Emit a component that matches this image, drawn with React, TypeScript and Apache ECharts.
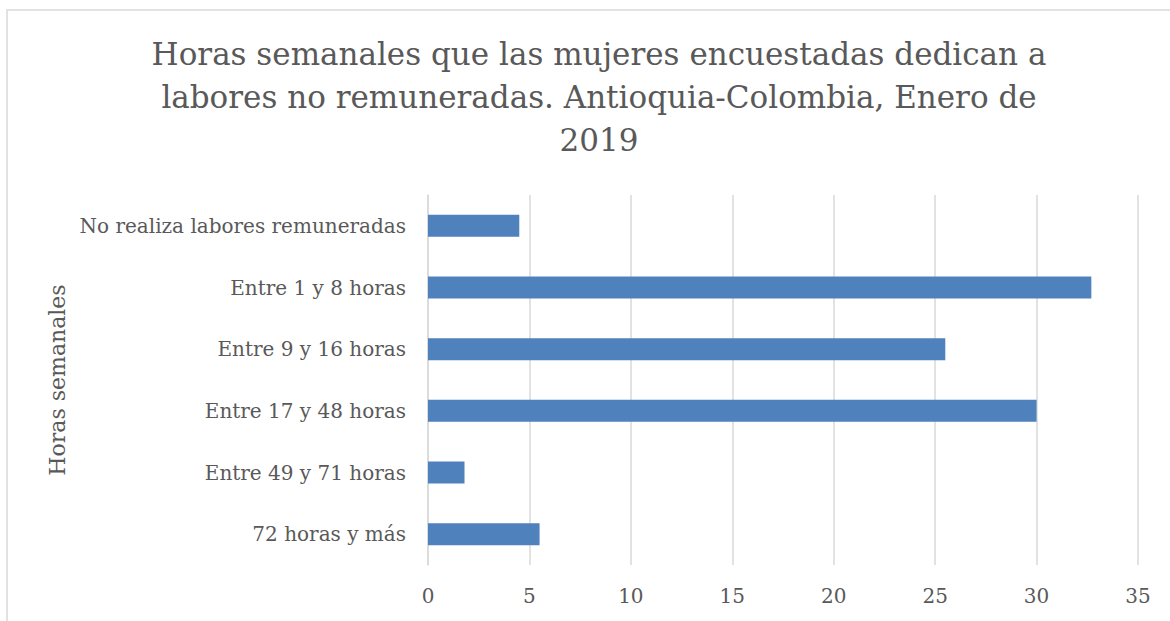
import React, { useEffect, useRef } from "react";
import * as echarts from "echarts";

const titleLines = [
  "Horas semanales que las mujeres encuestadas dedican a",
  "labores no remuneradas. Antioquia-Colombia, Enero de",
  "2019",
];
const categories = [
  "No realiza labores remuneradas",
  "Entre 1 y 8 horas",
  "Entre 9 y 16 horas",
  "Entre 17 y 48 horas",
  "Entre 49 y 71 horas",
  "72 horas y más",
];
const values = [4.5, 32.7, 25.5, 30, 1.8, 5.5];
const yAxisName = "Horas semanales";

const FONT = "'DejaVu Serif', serif";
const TEXT = "#595959";

export default function App() {
  const ref = useRef<HTMLDivElement>(null);
  useEffect(() => {
    document.body.style.margin = "0";
    const chart = echarts.init(ref.current!, null, { renderer: "svg" });
    chart.setOption({
      animation: false,
      backgroundColor: "#ffffff",
      title: {
        text: titleLines.join("\n"),
        left: 594,
        textAlign: "center",
        top: 27,
        textStyle: {
          fontFamily: FONT,
          fontSize: 31,
          fontWeight: "normal",
          color: TEXT,
          lineHeight: 43,
        },
      },
      graphic: [
        {
          type: "rect",
          shape: { x: 7, y: 10, width: 1200, height: 700 },
          style: { fill: "none", stroke: "#d9d9d9", lineWidth: 1.5 },
          silent: true,
        },
      ],
      grid: { left: 428, right: 32, top: 195, bottom: 56 },
      xAxis: {
        type: "value",
        min: 0,
        max: 35,
        interval: 5,
        axisLine: { show: false },
        axisTick: { show: false },
        splitLine: { show: true, lineStyle: { color: "#d9d9d9", width: 1.5 } },
        axisLabel: {
          fontFamily: FONT,
          fontSize: 20,
          color: TEXT,
          margin: 21,
        },
      },
      yAxis: {
        type: "category",
        data: categories,
        inverse: true,
        name: yAxisName,
        nameLocation: "middle",
        nameGap: 357,
        nameRotate: 90,
        nameTextStyle: { fontFamily: FONT, fontSize: 22, color: TEXT },
        axisLine: { show: true, lineStyle: { color: "#d9d9d9", width: 1.5 } },
        axisTick: { show: false },
        axisLabel: {
          fontFamily: FONT,
          fontSize: 20,
          color: TEXT,
          margin: 22,
        },
      },
      series: [
        {
          type: "bar",
          data: values,
          barWidth: 22,
          itemStyle: { color: "#4f81bd" },
        },
      ],
    });
    return () => chart.dispose();
  }, []);
  return (
    <div
      ref={ref}
      style={{ position: "absolute", left: 0, top: 0, width: 1170, height: 621 }}
    />
  );
}
